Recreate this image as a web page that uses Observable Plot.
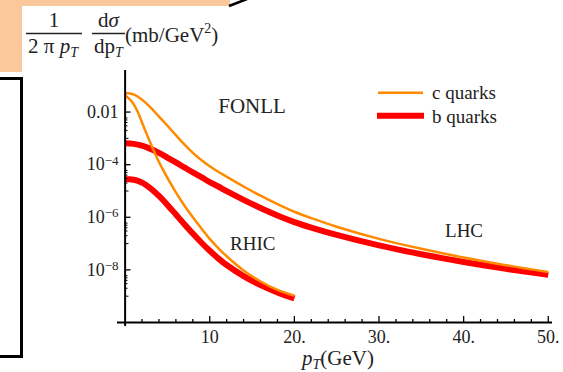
<!DOCTYPE html>
<html><head><meta charset="utf-8">
<script src="https://cdn.jsdelivr.net/npm/d3@7"></script>
<script src="https://cdn.jsdelivr.net/npm/@observablehq/plot@0.6"></script>
<style>
html,body{margin:0;padding:0;background:#fff;}
#wrap{position:relative;width:563px;height:372px;overflow:hidden;font-family:"Liberation Serif","Times New Roman",serif;color:#222;}
#chart{position:absolute;left:0;top:0;}
#deco{position:absolute;left:0;top:0;pointer-events:none;}
#deco text{font-family:"Liberation Serif","Times New Roman",serif;fill:#222;}
</style></head><body>
<div id="wrap"><div id="chart"></div>
<svg id="deco" width="563" height="372" xmlns="http://www.w3.org/2000/svg">
  <rect x="0" y="0" width="230" height="6" fill="#FAC89A"/>
  <rect x="0" y="0" width="22" height="72" fill="#FAC89A"/>
  <path d="M229,6 L247,-1" stroke="#000" stroke-width="2.5" fill="none"/>
  <rect x="-10" y="78.5" width="31.5" height="278" fill="none" stroke="#000" stroke-width="3"/>
  <text x="54" y="27" text-anchor="middle" font-size="21">1</text>
  <line x1="26" x2="82" y1="33.5" y2="33.5" stroke="#222" stroke-width="1.3"/>
  <text x="53" y="53" text-anchor="middle" font-size="21">2 π <tspan font-style="italic">p</tspan><tspan font-style="italic" font-size="14" dy="4">T</tspan></text>
  <text x="108.5" y="27" text-anchor="middle" font-size="21">d<tspan font-style="italic">σ</tspan></text>
  <line x1="92" x2="125" y1="33.5" y2="33.5" stroke="#222" stroke-width="1.3"/>
  <text x="108.5" y="53" text-anchor="middle" font-size="21">dp<tspan font-style="italic" font-size="14" dy="4">T</tspan></text>
  <text x="125" y="41.5" font-size="21">(mb/GeV<tspan font-size="14" dy="-9">2</tspan><tspan dy="9">)</tspan></text>
  <text x="338" y="365" text-anchor="middle" font-size="21"><tspan font-style="italic">p</tspan><tspan font-style="italic" font-size="14" dy="4">T</tspan><tspan dy="-4">(GeV)</tspan></text>
  <line x1="378" x2="423" y1="92.7" y2="92.7" stroke="#FF8A00" stroke-width="2.5"/>
  <line x1="377" x2="424" y1="115.7" y2="115.7" stroke="#FF0000" stroke-width="6"/>
  <text x="432" y="99" font-size="19">c quarks</text>
  <text x="432" y="122.5" font-size="19">b quarks</text>
</svg>
</div>
<script>
// transverse momentum grids (GeV)
const pT_LHC = [0,1,2,3,4,5,6,7,8,9,10,11,12,14,16,18,20,22,25,30,35,40,45,50];
const pT_RHIC = [0,0.5,1,1.5,2,2.5,3,3.5,4,4.5,5,6,7,8,9,10,11,12,14,16,18,20];
// cross sections (mb/GeV^2)
const cLHC = [5.25e-2,4.68e-2,2.95e-2,1.51e-2,6.76e-3,3.02e-3,1.32e-3,5.89e-4,2.82e-4,1.51e-4,8.71e-5,5.37e-5,3.47e-5,1.48e-5,6.61e-6,3.16e-6,1.62e-6,9.33e-7,4.37e-7,1.51e-7,6.31e-8,2.95e-8,1.51e-8,8.32e-9];
const bLHC = [6.46e-4,6.17e-4,5.25e-4,3.98e-4,2.82e-4,1.86e-4,1.22e-4,7.85e-5,5.07e-5,3.35e-5,2.18e-5,1.48e-5,9.84e-6,4.60e-6,2.25e-6,1.17e-6,6.56e-7,4.06e-7,2.13e-7,8.51e-8,3.91e-8,2.00e-8,1.10e-8,6.46e-9];
const cRHIC = [4.27e-2,3.16e-2,2.0e-2,1.0e-2,3.98e-3,1.58e-3,6.61e-4,2.82e-4,1.26e-4,6.17e-5,3.16e-5,8.91e-6,2.82e-6,1.0e-6,3.80e-7,1.51e-7,6.76e-8,3.31e-8,9.55e-9,3.63e-9,1.74e-9,1.05e-9];
const bRHIC = [2.82e-5,2.78e-5,2.66e-5,2.43e-5,2.07e-5,1.66e-5,1.26e-5,9.17e-6,6.46e-6,4.42e-6,2.95e-6,1.27e-6,5.46e-7,2.40e-7,1.10e-7,5.31e-8,2.75e-8,1.53e-8,5.82e-9,2.66e-9,1.40e-9,8.22e-10];
// ticks
const xMajor = [10,20,30,40,50];
const xMajorLabels = ["10","20.","30.","40.","50."];
const xMinor = [2,4,6,8,12,14,16,18,22,24,26,28,32,34,36,38,42,44,46,48];
const yMajor = [1e-2,1e-4,1e-6,1e-8];
const yMajorLabels = ["0.01","10^\u22124","10^\u22126","10^\u22128"];
const yMinor = [6e-3,5e-3,4e-3,3e-3,2e-3,6e-5,5e-5,4e-5,3e-5,2e-5,6e-7,5e-7,4e-7,3e-7,2e-7,6e-9,5e-9,4e-9,3e-9,2e-9];
const yMid = [1e-3,1e-5,1e-7,1e-9];
// annotations
const annoText = ["FONLL","RHIC","LHC"];
const annoX = [11.0,12.4,37.8];
const annoY = [0.0168,1e-7,3e-7];
const annoSize = [21,19,19];

const orange = "#FF8A00", red = "#FF0000";
const xLab = new Map(xMajor.map((d,i)=>[d,xMajorLabels[i]]));
const yLab = new Map(yMajor.map((d,i)=>[d,yMajorLabels[i]]));

const chart = Plot.plot({
  width: 563, height: 372,
  marginLeft: 117, marginRight: 11, marginTop: 70, marginBottom: 50,
  style: {fontFamily: "Liberation Serif, Times New Roman, serif", fontSize: "18px", color: "#222", background: "transparent"},
  x: {type: "linear", domain: [-0.9, 50.5]},
  y: {type: "log", domain: [1e-10, 0.38]},
  marks: [
    Plot.line(pT_LHC, {x: pT_LHC, y: bLHC, stroke: red, strokeWidth: 6, curve: "catmull-rom", strokeLinecap: "butt"}),
    Plot.line(pT_RHIC, {x: pT_RHIC, y: bRHIC, stroke: red, strokeWidth: 6, curve: "catmull-rom", strokeLinecap: "butt"}),
    Plot.line(pT_LHC, {x: pT_LHC, y: cLHC, stroke: orange, strokeWidth: 2.5, curve: "catmull-rom", strokeLinecap: "butt"}),
    Plot.line(pT_RHIC, {x: pT_RHIC, y: cRHIC, stroke: orange, strokeWidth: 2.5, curve: "catmull-rom", strokeLinecap: "butt"}),
    Plot.ruleY([1e-10], {stroke: "#000", strokeWidth: 2}),
    Plot.ruleX([0], {stroke: "#000", strokeWidth: 2, insetBottom: -4}),
    Plot.axisX(xMinor, {anchor: "bottom", tickSize: -3, tickFormat: () => "", label: null, stroke: "#000", strokeWidth: 1.3}),
    Plot.axisX(xMajor, {anchor: "bottom", tickSize: -6, tickPadding: 14, tickFormat: d => xLab.get(d), label: null, fontSize: 18, stroke: "#000", strokeWidth: 1.3}),
    Plot.axisY(yMinor, {anchor: "left", tickSize: -3, dx: 7.5, tickFormat: () => "", label: null, stroke: "#000", strokeWidth: 1}),
    Plot.axisY(yMid, {anchor: "left", tickSize: -4, dx: 7.5, tickFormat: () => "", label: null, stroke: "#000", strokeWidth: 1}),
    Plot.axisY(yMajor, {anchor: "left", tickSize: -6, dx: 7.5, tickFormat: () => "", label: null, stroke: "#000", strokeWidth: 1.3}),
    Plot.axisY(yMajor, {anchor: "left", tickSize: 0, tickPadding: 0, dx: 1, tickFormat: d => yLab.get(d), label: null, fontSize: 18}),
    Plot.text(annoText, {x: annoX, y: annoY, text: annoText, fontSize: annoSize, textAnchor: "start", lineAnchor: "middle", fill: "#222"})
  ]
});
// render "10^-4" style labels with a real superscript
d3.select(chart).selectAll("text").each(function(){
  const t = this.textContent;
  const m = t.match(/^10\^(.+)$/);
  if (m) {
    const el = d3.select(this);
    el.text("10");
    el.append("tspan").attr("dy", "-0.45em").attr("font-size", "13px").text(m[1]);
  }
});
document.getElementById("chart").appendChild(chart);
</script>
</body></html>
